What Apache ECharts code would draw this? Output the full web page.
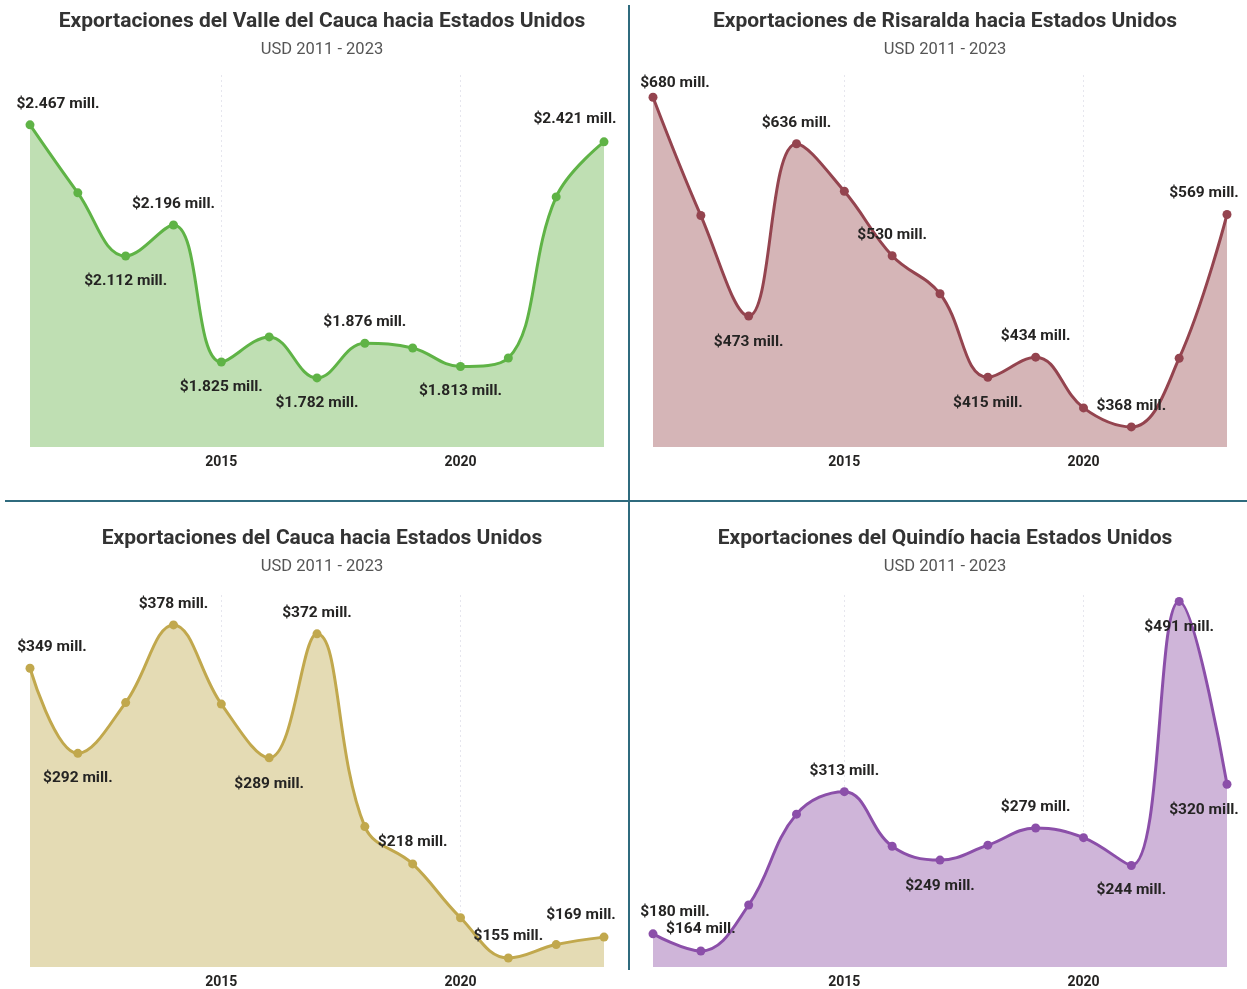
<!DOCTYPE html>
<html style="height: 100%">
<head>
    <meta charset="utf-8" />
    <title>Exportaciones hacia Estados Unidos</title>
    <script src="https://cdn.jsdelivr.net/npm/echarts@6/dist/echarts.min.js"></script>
</head>
<body style="height: 100%; margin: 0; overflow: hidden; background: #fff">
    <div id="container" style="width: 1247px; height: 989px"></div>
    <script>
        // datos (USD millones)
        var years = ["2011", "2012", "2013", "2014", "2015", "2016", "2017", "2018", "2019", "2020", "2021", "2022", "2023"];
        var tickYears = ["2015", "2020"];
        var valle = [2467, 2283, 2112, 2196, 1825, 1893, 1782, 1876, 1863, 1813, 1836, 2272, 2421];
        var risaralda = [680, 568, 473, 636, 591, 530, 494, 415, 434, 386, 368, 433, 569];
        var cauca = [349, 292, 326, 378, 325, 289, 372, 243, 218, 182, 155, 164, 169];
        var quindio = [180, 164, 207, 292, 313, 262, 249, 263, 279, 270, 244, 491, 320];
        var titles = [
            "Exportaciones del Valle del Cauca hacia Estados Unidos",
            "Exportaciones de Risaralda hacia Estados Unidos",
            "Exportaciones del Cauca hacia Estados Unidos",
            "Exportaciones del Quindío hacia Estados Unidos"
        ];
        var subtitle = "USD 2011 - 2023";

        var font = "Roboto";
        var dom = document.getElementById("container");
        var myChart = echarts.init(dom, null, { renderer: "canvas" });

        // etiquetas: [indice, dx, dy]
        var panels = [
            { data: valle, line: "#5fb346", area: "#bfdfb3", left: 30, top: 75, min: 1595, max: 2602,
              labels: [[0, 28, -21], [2, 0, 25], [3, 0, -21], [4, 0, 25], [6, 0, 25], [7, 0, -21], [9, 0, 25], [12, -29, -23]] },
            { data: risaralda, line: "#94444f", area: "#d5b5b7", left: 653, top: 75, min: 349, max: 701,
              labels: [[0, 22, -14], [2, 0, 26], [3, 0, -21], [5, 0, -21], [7, 0, 26], [8, 0, -21], [10, 0, -21], [12, -23, -21]] },
            { data: cauca, line: "#c1a84d", area: "#e4dbb4", left: 30, top: 595, min: 149, max: 398,
              labels: [[0, 22, -21], [1, 0, 25], [3, 0, -21], [5, 0, 26], [6, 0, -21], [8, 0, -22], [10, 0, -22], [12, -23, -22]] },
            { data: quindio, line: "#8b4fa9", area: "#cfb5d9", left: 653, top: 595, min: 149, max: 497,
              labels: [[0, 22, -22], [1, 0, -22], [4, 0, -21], [6, 0, 26], [8, 0, -21], [10, 0, 25], [11, 0, 26], [12, -23, 26]] }
        ];

        var fmt = function (v) {
            return "$" + String(v).replace(/\B(?=(\d{3})+(?!\d))/g, ".") + " mill.";
        };

        var option = {
            animation: false,
            title: [],
            grid: [],
            xAxis: [],
            yAxis: [],
            series: [],
            graphic: [
                { type: "line", shape: { x1: 629, y1: 5, x2: 629, y2: 970 }, style: { stroke: "#2f6b7e", lineWidth: 2 } },
                { type: "line", shape: { x1: 5, y1: 501, x2: 1247, y2: 501 }, style: { stroke: "#2f6b7e", lineWidth: 2 } }
            ]
        };

        panels.forEach(function (p, i) {
            var center = p.left === 30 ? 317 : 940;
            option.title.push({
                text: titles[i],
                subtext: subtitle,
                left: center,
                textAlign: "center",
                top: p.top === 75 ? 6 : 523,
                itemGap: 9,
                textStyle: { fontFamily: font, fontSize: 21, fontWeight: "bold", color: "#333333" },
                subtextStyle: { fontFamily: font, fontSize: 16.5, color: "#555555" }
            });
            option.grid.push({ left: p.left, top: p.top, width: 574, height: 372 });
            option.xAxis.push({
                type: "category",
                gridIndex: i,
                data: years,
                boundaryGap: false,
                axisLine: { show: false },
                axisTick: { show: false },
                axisLabel: {
                    interval: function (idx, v) { return tickYears.indexOf(v) >= 0; },
                    margin: 8,
                    fontFamily: font,
                    fontSize: 14,
                    fontWeight: "bold",
                    color: "#252423"
                },
                splitLine: {
                    show: true,
                    interval: function (idx, v) { return tickYears.indexOf(v) >= 0; },
                    lineStyle: { color: "#e6e6ee", type: [2, 3], width: 1 }
                }
            });
            option.yAxis.push({ type: "value", gridIndex: i, min: p.min, max: p.max, show: false });

            var lab = {};
            p.labels.forEach(function (l) { lab[l[0]] = [l[1], l[2]]; });
            option.series.push({
                type: "line",
                xAxisIndex: i,
                yAxisIndex: i,
                smooth: 0.4,
                symbol: "circle",
                symbolSize: 9,
                showAllSymbol: true,
                lineStyle: { color: p.line, width: 3 },
                itemStyle: { color: p.line },
                areaStyle: { color: p.area, opacity: 1, origin: "start" },
                data: p.data.map(function (v, k) {
                    var item = { value: v };
                    if (lab[k]) {
                        item.label = {
                            show: true,
                            position: "inside",
                            offset: lab[k],
                            formatter: fmt(v),
                            fontFamily: font,
                            fontSize: 15.5,
                            fontWeight: "bold",
                            color: "#252423"
                        };
                    }
                    return item;
                }),
                z: 2
            });
        });

        myChart.setOption(option);
        window.addEventListener("resize", myChart.resize);
    </script>
</body>
</html>
